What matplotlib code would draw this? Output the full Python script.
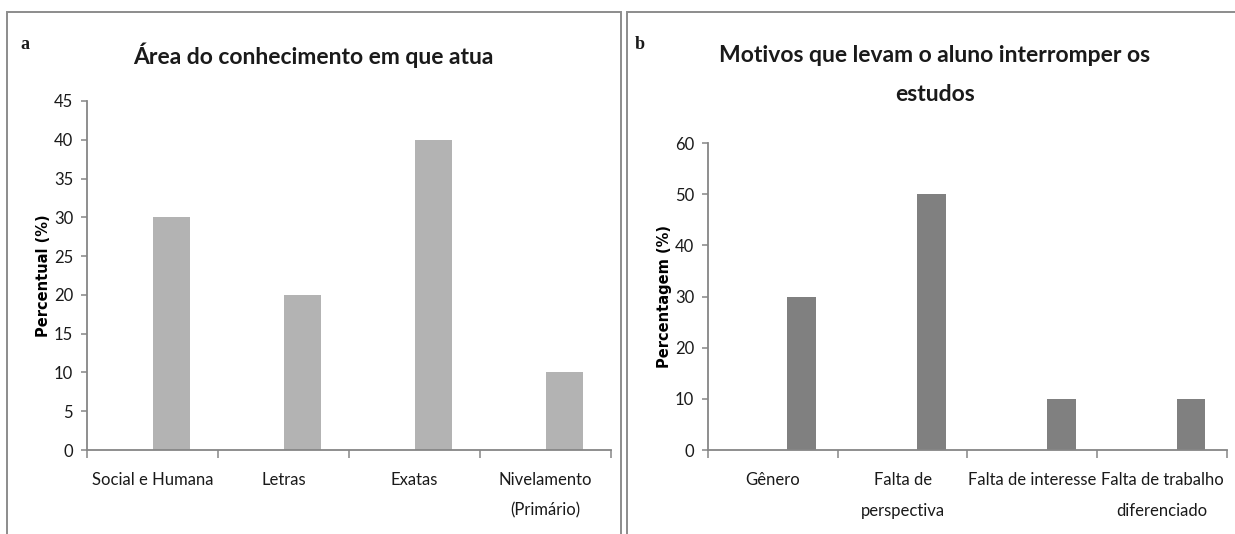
import matplotlib.pyplot as plt
import matplotlib.patches as mpatches
import numpy as np

plt.rcParams["font.family"] = ["Lato", "DejaVu Sans"]

# ---------------------------------------------------------------------------
# Data
# ---------------------------------------------------------------------------
area_labels = ["Social e Humana", "Letras", "Exatas", "Nivelamento\n(Primário)"]
area_values = [30, 20, 40, 10]

motivo_labels = ["Gênero", "Falta de\nperspectiva", "Falta de interesse",
                 "Falta de trabalho\ndiferenciado"]
motivo_values = [30, 50, 10, 10]

AXIS_GRAY = "#868686"
TEXT_COLOR = "#1a1a1a"


def _style_ax(ax, ymax, ystep):
    for side in ("top", "right"):
        ax.spines[side].set_visible(False)
    for side in ("left", "bottom"):
        ax.spines[side].set_color(AXIS_GRAY)
        ax.spines[side].set_linewidth(1.3)
    ax.set_ylim(0, ymax)
    ax.set_yticks(np.arange(0, ymax + 1, ystep))
    ax.tick_params(axis="y", length=4, width=1.1, color=AXIS_GRAY,
                   labelsize=12, pad=6, labelcolor=TEXT_COLOR)
    ax.set_xlim(-0.5, 3.5)
    ax.set_xticks(np.arange(-0.5, 4.0, 1.0), minor=True)
    ax.tick_params(axis="x", which="minor", length=6, width=1.1, color=AXIS_GRAY)
    ax.tick_params(axis="x", which="major", length=0, labelsize=12,
                   pad=16, labelcolor=TEXT_COLOR)


fig = plt.figure(figsize=(12.35, 5.34), dpi=100)

# panel frames
fig.add_artist(mpatches.Rectangle((7 / 1235, -0.05), 614 / 1235, (534 - 12) / 534 + 0.05,
                                  transform=fig.transFigure, fill=False,
                                  edgecolor="#8c8c8c", linewidth=1.4))
fig.add_artist(mpatches.Rectangle((627 / 1235, -0.05), 620 / 1235, (534 - 12) / 534 + 0.05,
                                  transform=fig.transFigure, fill=False,
                                  edgecolor="#8c8c8c", linewidth=1.4))

# --- panel a ---------------------------------------------------------------
ax1 = fig.add_axes([0.0705, 0.1573, 0.4243, 0.6536])
x1 = np.arange(len(area_labels))
ax1.bar(x1 + 0.143, area_values, width=0.286, color="#b3b3b3", linewidth=0)
ax1.set_xticks(x1)
ax1.set_xticklabels(area_labels, linespacing=2.1)
_style_ax(ax1, 45, 5)
ax1.set_ylabel("Percentual (%)", family="DejaVu Sans", fontweight="bold",
               fontsize=10.5, labelpad=2, color="black")

fig.text(0.2534, 0.897, "Área do conhecimento em que atua", ha="center",
         va="center", fontsize=16.5, fontweight="bold", color=TEXT_COLOR)
fig.text(0.0202, 0.916, "a", family="Liberation Serif", fontweight="bold",
         fontsize=13, ha="center", va="center", color=TEXT_COLOR)

# --- panel b ---------------------------------------------------------------
ax2 = fig.add_axes([0.5733, 0.1573, 0.4202, 0.5749])
x2 = np.arange(len(motivo_labels))
ax2.bar(x2 + 0.2225, motivo_values, width=0.223, color="#808080", linewidth=0)
ax2.set_xticks(x2)
ax2.set_xticklabels(motivo_labels, linespacing=2.1)
_style_ax(ax2, 60, 10)
ax2.set_ylabel("Percentagem (%)", family="DejaVu Sans", fontweight="bold",
               fontsize=10.5, labelpad=2, color="black")

fig.text(0.757, 0.8596, "Motivos que levam o aluno interromper os\nestudos",
         ha="center", va="center", fontsize=16.5, fontweight="bold",
         linespacing=2.05, color=TEXT_COLOR)
fig.text(0.518, 0.916, "b", family="Liberation Serif", fontweight="bold",
         fontsize=13, ha="center", va="center", color=TEXT_COLOR)

fig.savefig("out.png", dpi=100)
